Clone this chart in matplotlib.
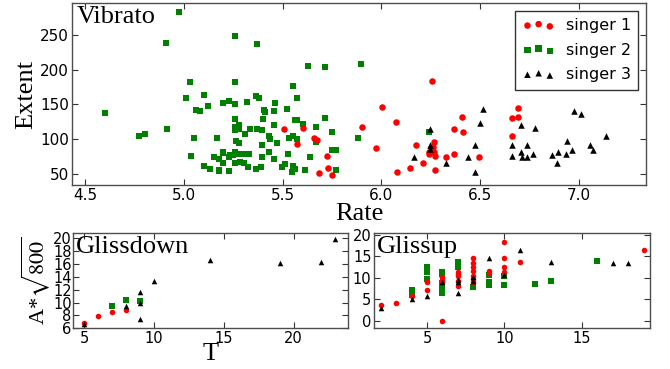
import matplotlib
matplotlib.use("Agg")
import matplotlib.pyplot as plt

plt.rcParams['font.family'] = 'DejaVu Sans'
plt.rcParams['mathtext.fontset'] = 'stix'

# vibrato: rate / extent per singer
s1_rate = [5.508, 5.601, 5.571, 5.66, 5.674, 5.722, 5.732, 5.682, 5.749, 6.004, 5.9, 5.974,
           6.072, 6.077, 6.257, 6.147, 6.176, 6.21, 6.265, 6.26, 6.243, 6.243, 6.27, 6.265,
           6.27, 6.327, 6.366, 6.368, 6.408, 6.413, 6.495, 6.66, 6.66, 6.69, 6.69, 6.253]
s1_ext = [115, 116, 93, 101, 99, 76, 58, 52, 48, 146, 117, 88,
          125, 53, 184, 59, 91, 65, 96, 89, 82, 78, 76, 82,
          56, 74, 78, 115, 132, 111, 74, 105, 131, 132, 145, 87]

s2_rate = [4.976, 4.912, 5.261, 5.371, 5.628, 5.715, 5.895, 5.03, 5.261, 5.013, 5.1, 5.12,
           5.063, 5.08, 5.197, 5.228, 5.261, 5.318, 5.366, 5.379, 5.463, 5.408, 5.411, 5.456,
           5.522, 5.554, 5.571, 4.599, 4.772, 4.803, 4.914, 5.05, 5.038, 5.1, 5.13, 5.166,
           5.154, 5.177, 5.18, 5.197, 5.2, 5.228, 5.231, 5.261, 5.261, 5.278, 5.261, 5.278,
           5.265, 5.277, 5.26, 5.278, 5.257, 5.283, 5.303, 5.332, 5.303, 5.327, 5.308, 5.335,
           5.371, 5.394, 5.396, 5.403, 5.43, 5.438, 5.458, 5.472, 5.43, 5.398, 5.458, 5.366,
           5.389, 5.497, 5.512, 5.529, 5.534, 5.554, 5.571, 5.564, 5.571, 5.603, 5.55, 5.564,
           5.545, 5.614, 5.64, 5.668, 5.668, 5.715, 5.749, 5.749, 5.772, 5.769, 5.88, 6.243,
           5.2, 5.177, 5.228, 5.248, 5.197]
s2_ext = [283, 238, 249, 237, 206, 204, 209, 182, 182, 160, 164, 148,
          142, 141, 152, 155, 151, 153, 162, 160, 152, 142, 139, 141,
          143, 177, 160, 137, 105, 108, 115, 101, 76, 62, 57, 101,
          75, 72, 54, 80, 66, 54, 77, 129, 118, 121, 113, 115,
          98, 95, 82, 78, 65, 67, 79, 78, 66, 60, 107, 114,
          115, 113, 91, 129, 105, 100, 121, 95, 82, 74, 72, 57,
          60, 60, 64, 79, 101, 105, 100, 127, 128, 122, 62, 57,
          53, 55, 75, 118, 96, 131, 110, 84, 84, 56, 102, 111,
          81, 55, 75, 77, 65]

s3_rate = [6.164, 6.245, 6.245, 6.245, 6.327, 6.436, 6.472, 6.475, 6.5, 6.514, 6.66, 6.66,
           6.707, 6.704, 6.711, 6.737, 6.737, 6.766, 6.778, 6.865, 6.889, 6.895, 6.936, 6.941,
           6.964, 6.976, 7.01, 7.055, 7.072, 7.134]
s3_ext = [75, 115, 91, 86, 66, 75, 53, 91, 123, 144, 91, 76,
          120, 82, 75, 91, 74, 78, 116, 77, 66, 82, 78, 97,
          85, 140, 136, 92, 85, 104]

# glissdown: T / A*sqrt(800)
gd1_t = [5, 6, 7, 8]
gd1_a = [6.8, 7.9, 8.5, 8.8]
gd2_t = [7, 8, 9]
gd2_a = [9.4, 10.45, 10.3]
gd3_t = [5, 8, 9, 9, 9, 10, 14, 19, 22, 23]
gd3_a = [6.7, 9.5, 11.7, 9.9, 7.5, 13.4, 16.7, 16.2, 16.4, 19.9]

# glissup
gu1_t = [2, 3, 4, 5, 5, 6, 6, 6, 6, 7, 7, 7, 7, 7, 8, 8, 8, 8, 8, 8, 8, 9, 9, 10, 10, 10, 10, 11, 19]
gu1_a = [3.7, 4.1, 5.8, 7.1, 9.0, 0.0, 10.1, 9.5, 9.1, 8.1, 9.3, 10.4, 10.9, 11.3,
         14.6, 13.4, 12.5, 11.7, 10.4, 9.7, 9.1, 11.7, 11.2, 18.3, 14.6, 12.5, 11.4, 13.6, 16.5]
gu2_t = [4, 4, 4, 5, 5, 5, 5, 6, 6, 6, 6, 6, 6, 7, 7, 7, 8, 9, 9, 9, 10, 10, 12, 13, 16]
gu2_a = [7.2, 6.5, 6.0, 12.6, 12.0, 11.4, 9.7, 11.4, 10.9, 8.7, 7.9, 7.2, 6.5,
         13.4, 12.6, 13.6, 7.9, 10.7, 9.1, 8.3, 10.4, 8.3, 8.5, 9.3, 13.9]
gu3_t = [2, 4, 5, 6, 7, 7, 7, 8, 8, 9, 10, 11, 13, 17, 18]
gu3_a = [2.9, 5.0, 5.8, 9.0, 6.5, 9.5, 9.0, 9.3, 10.3, 14.6, 10.7, 16.5, 13.6, 13.4, 13.4]

serif = 'Liberation Serif'


def style_axes(ax, size):
    for sp in ax.spines.values():
        sp.set_color('0.3')
        sp.set_linewidth(1.0)
    ax.tick_params(direction='in', top=True, right=True, length=4,
                   color='0.2', labelsize=size, pad=2)


fig = plt.figure(figsize=(6.7, 3.69), dpi=100)
ax = fig.add_axes([0.1075, 0.4986, 0.857, 0.493])
ax_gd = fig.add_axes([0.109, 0.1103, 0.4104, 0.2575])
ax_gu = fig.add_axes([0.5587, 0.1103, 0.4115, 0.2575])

ax.scatter(s1_rate, s1_ext, s=22, c='r', marker='o', linewidths=0, zorder=3, label='singer 1')
ax.scatter(s2_rate, s2_ext, s=22, c='g', marker='s', linewidths=0, zorder=2, label='singer 2')
ax.scatter(s3_rate, s3_ext, s=22, c='k', marker='^', linewidths=0, zorder=4, label='singer 3')
ax.set_xlim(4.434, 7.34)
ax.set_ylim(34, 296)
ax.set_xticks([4.5, 5.0, 5.5, 6.0, 6.5, 7.0])
ax.set_yticks([50, 100, 150, 200, 250])
style_axes(ax, 11)
ax.set_xlabel('Rate', family=serif, fontsize=19, labelpad=0)
ax.set_ylabel('Extent', family=serif, fontsize=19, labelpad=2)
ax.text(0.008, 0.985, 'Vibrato', transform=ax.transAxes, ha='left', va='top',
        family=serif, fontsize=19)
leg = ax.legend(loc='upper right', scatterpoints=3, scatteryoffsets=[0.42, 0.55, 0.35],
                fontsize=11.5, fancybox=False, borderaxespad=0.5,
                handletextpad=0.7, labelspacing=0.6, borderpad=0.45)
leg.get_frame().set_edgecolor('k')
leg.get_frame().set_linewidth(1.0)

ax_gd.scatter(gd1_t, gd1_a, s=16, c='r', marker='o', linewidths=0, zorder=3)
ax_gd.scatter(gd2_t, gd2_a, s=16, c='g', marker='s', linewidths=0, zorder=2)
ax_gd.scatter(gd3_t, gd3_a, s=16, c='k', marker='^', linewidths=0, zorder=4)
ax_gd.set_xlim(4.2, 23.9)
ax_gd.set_ylim(6, 20.8)
ax_gd.set_xticks([5, 10, 15, 20])
ax_gd.set_yticks([6, 8, 10, 12, 14, 16, 18, 20])
style_axes(ax_gd, 10.5)
ax_gd.tick_params(axis='y', pad=1)
ax_gd.set_xlabel('T', family=serif, fontsize=19, labelpad=-2)
ax_gd.set_ylabel(r'A*$\sqrt{800}$', family=serif, fontsize=16, labelpad=1)
ax_gd.text(0.01, 0.97, 'Glissdown', transform=ax_gd.transAxes, ha='left', va='top',
           family=serif, fontsize=19)

ax_gu.scatter(gu1_t, gu1_a, s=16, c='r', marker='o', linewidths=0, zorder=3)
ax_gu.scatter(gu2_t, gu2_a, s=16, c='g', marker='s', linewidths=0, zorder=2)
ax_gu.scatter(gu3_t, gu3_a, s=16, c='k', marker='^', linewidths=0, zorder=4)
ax_gu.set_xlim(1.6, 19.4)
ax_gu.set_ylim(-1.8, 20.4)
ax_gu.set_xticks([5, 10, 15])
ax_gu.set_yticks([0, 5, 10, 15, 20])
style_axes(ax_gu, 10.5)
ax_gu.text(0.01, 0.97, 'Glissup', transform=ax_gu.transAxes, ha='left', va='top',
           family=serif, fontsize=19)

fig.savefig('out.png', dpi=100, facecolor='white')
